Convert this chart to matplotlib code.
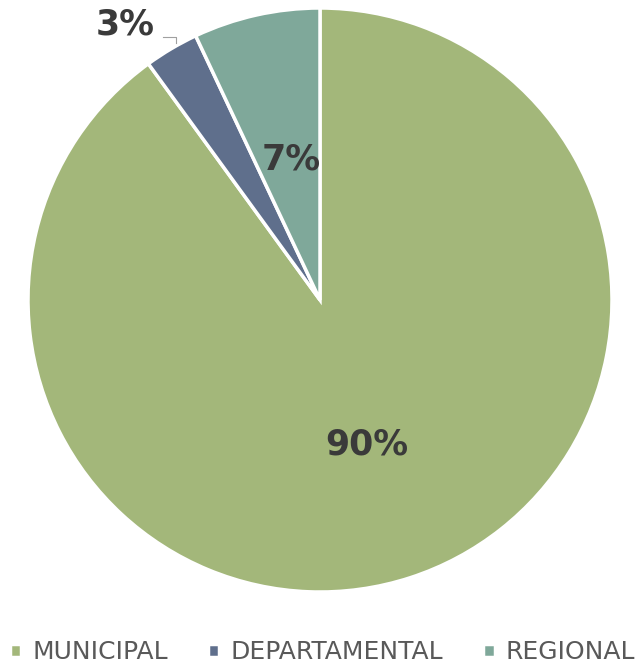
import matplotlib.pyplot as plt

labels = ['MUNICIPAL', 'DEPARTAMENTAL', 'REGIONAL']
values = [90, 3, 7]
colors = ['#a3b77a', '#5f6f8c', '#7fa89a']

W, H = 639, 668
fig = plt.figure(figsize=(W / 100, H / 100), dpi=100)
# square axes holding the pie, centred at (320, 300) px with radius 292 px
ax = fig.add_axes([28 / W, (H - 592) / H, 584 / W, 584 / H])

wedges, texts, autotexts = ax.pie(
    values, colors=colors, startangle=90, counterclock=False,
    autopct='%d%%', pctdistance=0.52, radius=1.0,
    wedgeprops=dict(edgecolor='white', linewidth=2.5),
    textprops=dict(fontsize=25, fontweight='bold', color='#3a3a3a'))
autotexts[2].set_position((-0.1, 0.48))

# the small slice gets its label outside with a short leader line
autotexts[1].set_position((-0.668, 0.945))
ax.plot([-0.538, -0.493, -0.493], [0.90, 0.90, 0.88], color='#a0a0a0',
        lw=0.8, clip_on=False)

ax.set_xlim(-1.0, 1.0)
ax.set_ylim(-1.0, 1.0)
ax.set_aspect('equal')
ax.axis('off')

fig.legend(wedges, labels, loc='lower center', ncol=3, frameon=False,
           bbox_to_anchor=(0.505, -0.028), fontsize=18, labelcolor='#595959',
           handlelength=0.45, handleheight=0.45, handletextpad=0.45,
           columnspacing=1.6)

fig.savefig('out.png', dpi=100)
